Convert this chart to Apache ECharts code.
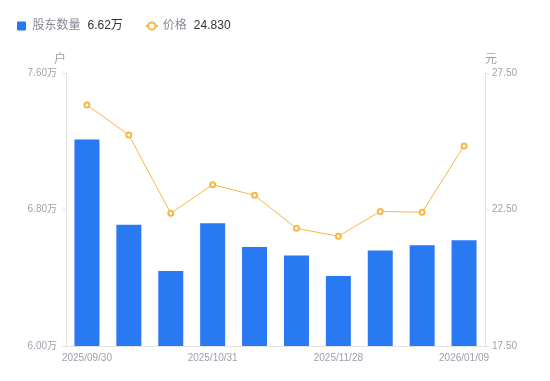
<!DOCTYPE html>
<html><head><meta charset="utf-8">
<script src="https://cdn.jsdelivr.net/npm/echarts@6/dist/echarts.min.js"></script>
<style>html,body{margin:0;padding:0;background:#fff}#c{width:550px;height:381px}</style>
</head><body><div id="c"></div>
<script>
const categories = ['2025/09/30','2025/10/10','2025/10/20','2025/10/31','2025/11/10','2025/11/20','2025/11/28','2025/12/10','2025/12/31','2026/01/09'];
const holders = [7.21, 6.71, 6.44, 6.72, 6.58, 6.53, 6.41, 6.56, 6.59, 6.62];
const prices = [26.33, 25.23, 22.36, 23.41, 23.02, 21.81, 21.52, 22.43, 22.40, 24.83];
const leftTicks = ['6.00万','6.80万','7.60万'];
const rightTicks = ['17.50','22.50','27.50'];
const legendValues = {'股东数量': '6.62万', '价格': '24.830'};

const chart = echarts.init(document.getElementById('c'));
const labelColor = '#a0a0ad';
const latin = '"Liberation Sans", Arial, "Noto Sans CJK SC", sans-serif';
chart.setOption({
  animation: false,
  textStyle: {fontFamily: latin},
  legend: {
    left: 12, top: 15, itemWidth: 12, itemHeight: 9, itemGap: 22, symbolKeepAspect: true,
    textStyle: {fontSize: 12, color: '#888896', fontFamily: latin,
      rich: {n: {color: '#888896', fontSize: 12, fontFamily: latin}, v: {color: '#333', fontSize: 12, padding: [0,0,0,7], fontFamily: latin}}},
    formatter: name => '{n|' + name + '}{v|' + legendValues[name] + '}',
    data: [{name: '股东数量', icon: 'path://M1,0H7Q8,0 8,1V7Q8,8 7,8H1Q0,8 0,7V1Q0,0 1,0Z'}, {name: '价格'}]
  },
  grid: {left: 66, right: 65, top: 73, bottom: 35},
  xAxis: {
    type: 'category', data: categories,
    axisLine: {lineStyle: {color: '#e3e3e8'}},
    axisTick: {show: false},
    axisLabel: {color: labelColor, fontSize: 10, interval: 2, margin: 7, fontFamily: latin}
  },
  yAxis: [{
    type: 'value', min: 6.0, max: 7.6, interval: 0.8,
    name: '户', nameGap: 7, nameTextStyle: {color: labelColor, fontSize: 12, align: 'right', padding: [0, 0, 0, 0]},
    axisLine: {show: true, lineStyle: {color: '#e3e3e8'}},
    axisTick: {show: true, length: 4, lineStyle: {color: '#e3e3e8'}},
    splitLine: {show: false},
    axisLabel: {color: labelColor, fontSize: 10, margin: 9, fontFamily: latin,
      formatter: v => leftTicks[Math.round((v - 6.0) / 0.8)]}
  }, {
    type: 'value', min: 17.5, max: 27.5, interval: 5,
    name: '元', nameGap: 7, nameTextStyle: {color: labelColor, fontSize: 12, align: 'left', padding: [0, 0, 0, 0]},
    axisLine: {show: true, lineStyle: {color: '#e3e3e8'}},
    axisTick: {show: true, length: 4, lineStyle: {color: '#e3e3e8'}},
    splitLine: {show: false},
    axisLabel: {color: labelColor, fontSize: 10, margin: 7, fontFamily: latin,
      formatter: v => rightTicks[Math.round((v - 17.5) / 5)]}
  }],
  series: [{
    name: '股东数量', type: 'bar', yAxisIndex: 0, data: holders, barWidth: 25,
    itemStyle: {color: '#2979f3'}
  }, {
    name: '价格', type: 'line', yAxisIndex: 1, data: prices,
    symbol: 'emptyCircle', symbolSize: 5,
    lineStyle: {color: '#f7b847', width: 1},
    itemStyle: {color: '#f7b847', borderWidth: 2}
  }]
});
</script></body></html>
